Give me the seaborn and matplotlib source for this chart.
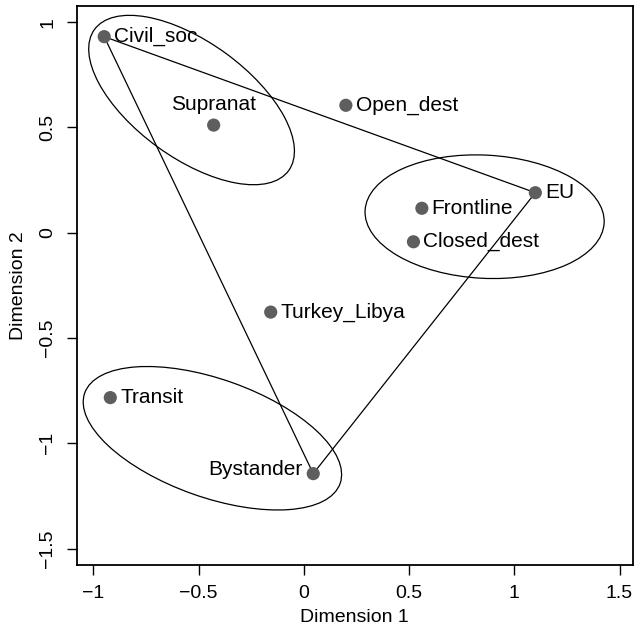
import matplotlib
matplotlib.use("Agg")
import matplotlib.pyplot as plt
from matplotlib.patches import Ellipse
import seaborn as sns
import pandas as pd

# Positions of actors on the two MDS dimensions
labels = ["Civil_soc", "Supranat", "Open_dest", "EU", "Frontline",
          "Closed_dest", "Turkey_Libya", "Transit", "Bystander"]
dim1 = [-0.948, -0.428, 0.200, 1.100, 0.561, 0.521, -0.157, -0.919, 0.045]
dim2 = [0.931, 0.511, 0.605, 0.190, 0.116, -0.043, -0.377, -0.783, -1.144]

# Triangle joining the three anchor actors
triangle = ["Civil_soc", "EU", "Bystander", "Civil_soc"]

# Cluster ellipses: centre, full width, full height, rotation (degrees)
ell_x = [-0.533, 0.859, -0.434]
ell_y = [0.630, 0.076, -0.976]
ell_w = [1.14, 1.137, 1.287]
ell_h = [0.55, 0.585, 0.561]
ell_angle = [-36.0, -3.0, -19.5]

xticks = [-1, -0.5, 0, 0.5, 1, 1.5]
yticks = [-1.5, -1, -0.5, 0, 0.5, 1]

sns.set_style("ticks")
plt.rcParams["font.family"] = ["Liberation Sans", "DejaVu Sans"]
plt.rcParams["axes.unicode_minus"] = True
plt.rcParams["text.color"] = "black"
plt.rcParams["axes.labelcolor"] = "black"
plt.rcParams["xtick.color"] = "black"
plt.rcParams["ytick.color"] = "black"

df = pd.DataFrame({"label": labels, "d1": dim1, "d2": dim2})
tri = df.set_index("label").loc[triangle].reset_index()

fig = plt.figure(figsize=(6.36, 6.32), dpi=100)
ax = fig.add_axes([0.121, 0.1068, 0.8735, 0.8837])

sns.lineplot(data=tri, x="d1", y="d2", sort=False, estimator=None,
             color="black", linewidth=0.9, ax=ax, zorder=2)

for cx, cy, w, h, a in zip(ell_x, ell_y, ell_w, ell_h, ell_angle):
    ax.add_patch(Ellipse((cx, cy), w, h, angle=a, fill=False,
                         edgecolor="black", linewidth=0.9, zorder=2))

sns.scatterplot(data=df, x="d1", y="d2", color="#5e5e5e", s=90,
                edgecolor="none", ax=ax, zorder=3)

fs = 15
for lab, x, y in zip(labels, dim1, dim2):
    if lab == "Supranat":
        ax.annotate(lab, (x, y), xytext=(0, 15), textcoords="offset points",
                    ha="center", va="center", fontsize=fs, color="black")
    elif lab == "Bystander":
        ax.annotate(lab, (x, y), xytext=(-8, 3), textcoords="offset points",
                    ha="right", va="center", fontsize=fs, color="black")
    else:
        ax.annotate(lab, (x, y), xytext=(7, 0), textcoords="offset points",
                    ha="left", va="center", fontsize=fs, color="black")

ax.set_xlim(-1.0774, 1.5615)
ax.set_ylim(-1.5755, 1.0765)
ax.set_xticks(xticks)
ax.set_xticklabels([f"{t:g}".replace("-", "\u2212") for t in xticks])
ax.set_yticks(yticks)
ax.set_yticklabels([f"{t:g}".replace("-", "\u2212") for t in yticks],
                   rotation=90, va="center")
ax.tick_params(direction="out", length=7, width=1, labelsize=14, pad=8,
               color="black", labelcolor="black")
for sp in ax.spines.values():
    sp.set_visible(True)
    sp.set_linewidth(1.3)
    sp.set_color("black")
ax.set_xlabel("Dimension 1", fontsize=14, labelpad=5)
ax.set_ylabel("Dimension 2", fontsize=14, labelpad=9)
ax.grid(False)

fig.savefig("out.png", dpi=100)
